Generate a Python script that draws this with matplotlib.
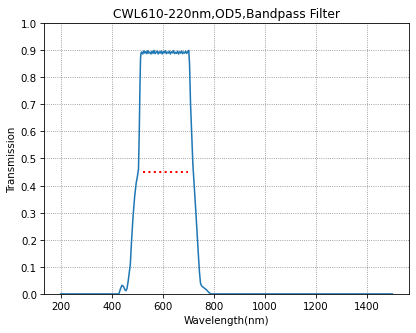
import matplotlib
matplotlib.use("Agg")
import matplotlib.pyplot as plt
import numpy as np

# blocking region and edges
wl_low = [200, 300, 400, 428, 434, 440, 446, 452, 456, 460, 465, 469, 473, 478, 484, 490, 496, 500, 505, 508, 511, 513, 515]
tr_low = [0.0, 0.0, 0.0, 0.0, 0.018, 0.032, 0.028, 0.015, 0.012, 0.02, 0.05, 0.08, 0.11, 0.2, 0.29, 0.36, 0.41, 0.43, 0.46, 0.6, 0.78, 0.87, 0.89]

# passband ripple
wl_pass = [518, 522, 526, 530, 534, 538, 542, 546, 550, 554, 558, 562, 566, 570, 574, 578, 582,
           586, 590, 594, 598, 602, 606, 610, 614, 618, 622, 626, 630, 634, 638, 642, 646, 650,
           654, 658, 662, 666, 670, 674, 678, 682, 686, 690, 694, 698, 702]
tr_pass = [0.893, 0.886, 0.897, 0.889, 0.895, 0.887, 0.898, 0.889, 0.893, 0.886, 0.896, 0.888, 0.899, 0.887, 0.892, 0.897, 0.886,
           0.894, 0.889, 0.897, 0.886, 0.895, 0.89, 0.898, 0.887, 0.893, 0.889, 0.896, 0.886, 0.894, 0.89, 0.898, 0.887,
           0.892, 0.888, 0.896, 0.886, 0.894, 0.889, 0.897, 0.887, 0.893, 0.889, 0.896, 0.888, 0.894, 0.899]

wl_high = [705, 709, 714, 718, 722, 726, 730, 735, 740, 744, 748, 752, 758, 765, 772, 778, 784, 790, 795, 800, 900, 1000, 1200, 1400, 1500]
tr_high = [0.85, 0.7, 0.58, 0.48, 0.42, 0.36, 0.3, 0.22, 0.14, 0.08, 0.04, 0.03, 0.025, 0.02, 0.015, 0.008, 0.003, 0.0, 0.0, 0.0, 0.0, 0.0, 0.0, 0.0, 0.0]

wl = wl_low + wl_pass + wl_high
tr = tr_low + tr_pass + tr_high

# half-max marker line
half_wl = [522, 700]
half_tr = [0.45, 0.45]

fig = plt.figure(figsize=(5.66, 4.544), dpi=73.5)
ax = fig.add_axes([0.106, 0.117, 0.877, 0.811])
ax.plot(wl, tr)
ax.plot(half_wl, half_tr, 'r:', linewidth=2)
ax.set_ylim(0, 1.0)
ax.set_yticks(np.arange(0, 1.01, 0.1))
ax.grid(True, linestyle=':', color='gray')
ax.set_title("CWL610-220nm,OD5,Bandpass Filter")
ax.set_xlabel("Wavelength(nm)")
ax.set_ylabel("Transmission")
fig.savefig("out.png", dpi=73.5)
